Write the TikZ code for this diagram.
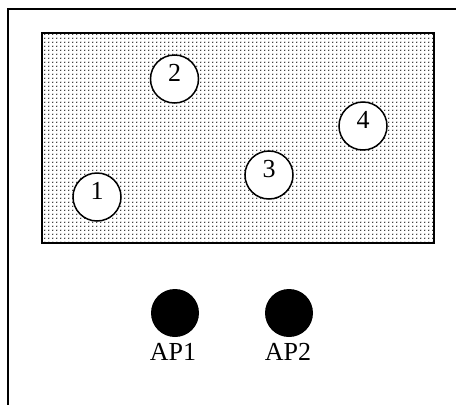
\documentclass[tikz,border=0pt]{standalone}
\usepackage{fontspec}
\setmainfont{Liberation Serif}
\usetikzlibrary{patterns.meta}
\tikzdeclarepattern{
  name=mydots,
  type=uncolored,
  bounding box={(-2.1pt,-2.1pt) and (2.1pt,2.1pt)},
  tile size={(4.2pt,4.2pt)},
  code={\fill (0pt,0pt) circle (0.85pt);}
}
\tikzset{
  frame/.style={line width=1.4pt},
  area/.style={draw, line width=1.8pt, pattern=mydots, pattern color=black, minimum width=392pt, minimum height=210pt, inner sep=0pt},
  station/.style={circle, draw, line width=1.5pt, fill=white, minimum size=48pt, inner sep=0pt, font=\fontsize{26}{26}\selectfont},
  apdot/.style={circle, fill=black, minimum size=48pt, inner sep=0pt},
  aplabel/.style={inner sep=0pt, font=\fontsize{26}{26}\selectfont}
}
\newcommand{\numup}[1]{\raisebox{-2pt}[0pt][0pt]{#1}}
\begin{document}
\begin{tikzpicture}[x=1pt,y=-1pt]
\useasboundingbox (0,0) rectangle (456,405);
\coordinate (fb) at (8,405);
\coordinate (fc) at (8,9);
\coordinate (fr) at (456,9);
\draw[frame] (fb) -- (fc) -- (fr);
\node[area] (room) at (238,138) {};
\node[station] (s1) at (97,197) {\numup{1}};
\node[station] (s2) at (174.5,79) {\numup{2}};
\node[station] (s3) at (269,175) {\numup{3}};
\node[station] (s4) at (363,126) {\numup{4}};
\node[apdot] (ap1) at (175,313) {};
\node[apdot] (ap2) at (289,313) {};
\node[aplabel] (l1) at (173,352) {AP1};
\node[aplabel] (l2) at (288,352) {AP2};
\end{tikzpicture}
\end{document}
